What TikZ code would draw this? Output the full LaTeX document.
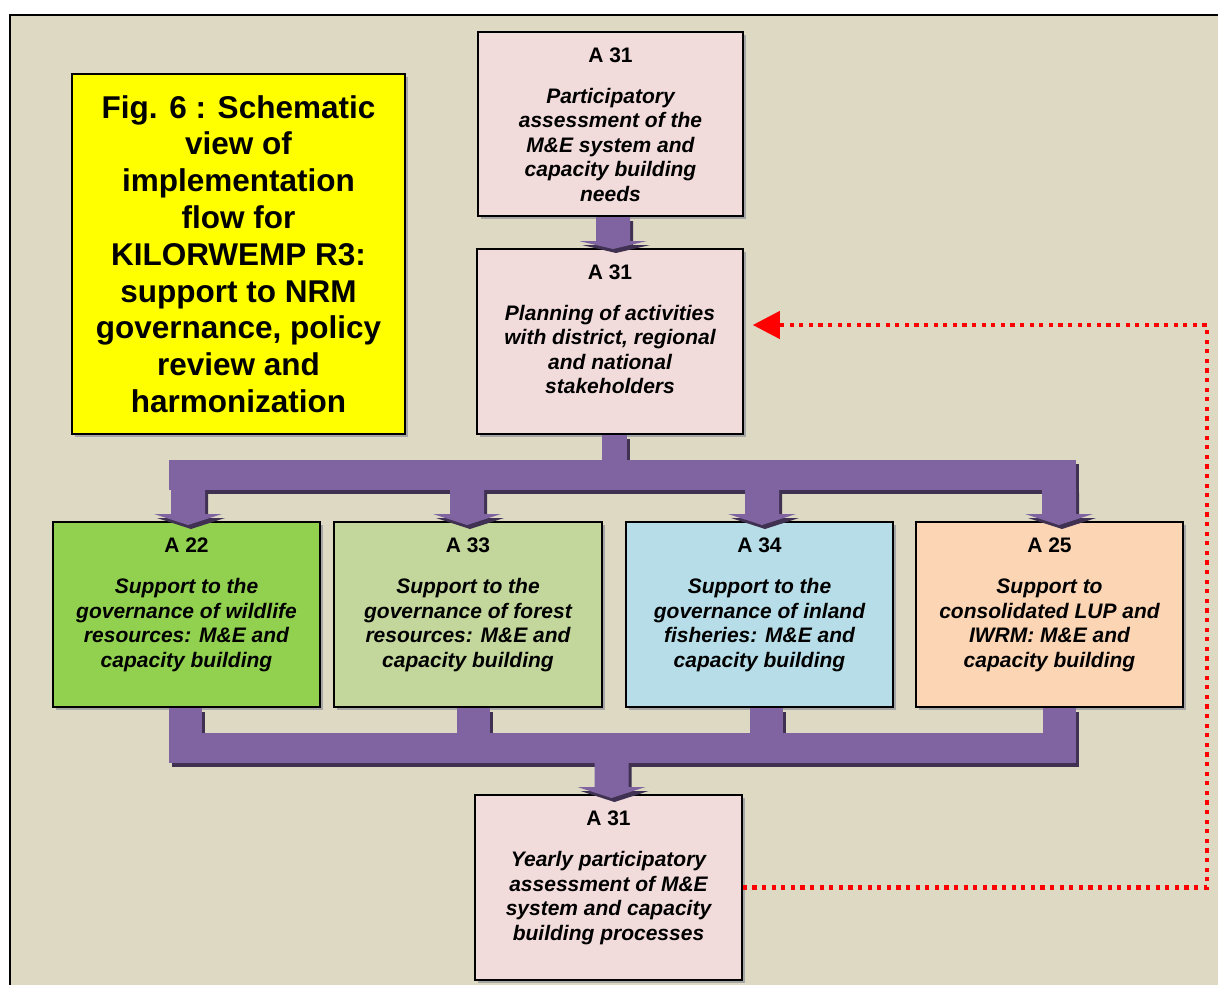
\documentclass[tikz,border=0pt]{standalone}
\usepackage{fontspec}
\setmainfont{Liberation Sans}
\usetikzlibrary{arrows.meta,calc,shadows}
\definecolor{bg}{HTML}{DDD9C3}
\definecolor{pinkbox}{HTML}{F2DCDB}
\definecolor{greenbox}{HTML}{92D050}
\definecolor{olivebox}{HTML}{C3D69B}
\definecolor{bluebox}{HTML}{B7DEE8}
\definecolor{peachbox}{HTML}{FCD5B5}
\definecolor{purp}{HTML}{8064A2}
\definecolor{purpdark}{HTML}{403152}
\definecolor{fbred}{HTML}{FF0000}
\definecolor{titleyellow}{HTML}{FFFF00}
\tikzset{
  boxbase/.style={draw=black, line width=1.5pt, inner sep=0pt,
    drop shadow={shadow xshift=2.5pt, shadow yshift=-2.5pt, fill=black!35, opacity=1}},
  actbox/.style={boxbase, minimum width=266pt, minimum height=185pt},
  acttext/.style={anchor=north, inner sep=0pt, align=center,
    font=\fontsize{21}{24.5}\selectfont\bfseries\itshape},
  titlebox/.style={boxbase, fill=titleyellow, minimum width=333pt, minimum height=360pt,
    align=center, font=\fontsize{31.5}{36.8}\selectfont\bfseries},
  feedback/.style={draw=fbred, line width=4.2pt, dash pattern=on 4.2pt off 5.4pt,
    -{Triangle[length=27pt,width=27pt]}}
}
\newcommand\dnarrow[4]{% x, ytop, ybase, ytip
  \fill[pf] ({#1-17},#2) -- ({#1+17},#2) -- ({#1+17},#3) -- ({#1+34},#3) --
    (#1,#4) -- ({#1-34},#3) -- ({#1-17},#3) -- cycle;}
\newcommand\allpurple{%
  \dnarrow{613}{217}{241}{249}
  \fill[pf] (602,435) rectangle (627,461);
  \fill[pf] (169,460) rectangle (1076,490);
  \dnarrow{188}{489}{514}{525}
  \dnarrow{467}{489}{514}{525}
  \dnarrow{762}{489}{514}{525}
  \dnarrow{1059}{489}{514}{525}
  \fill[pf] (169,708) rectangle (202,734);
  \fill[pf] (457,708) rectangle (490,734);
  \fill[pf] (750,708) rectangle (783,734);
  \fill[pf] (1043,708) rectangle (1076,734);
  \fill[pf] (169,733) rectangle (1076,763);
  \dnarrow{611.5}{762}{787}{798}
}
\begin{document}
\begin{tikzpicture}[x=1pt,y=-1pt]
\useasboundingbox (0,0) rectangle (1218,985);
\clip (0,0) rectangle (1218,985);
\fill[white] (0,0) rectangle (1218,985);
\draw[line width=1.5pt, draw=black, fill=bg] (10,15) rectangle (1240,1005);

% title
\node[titlebox] (title) at (238.5,254) {Fig. 6 : Schematic\\view of\\implementation\\flow for\\KILORWEMP R3:\\support to NRM\\governance, policy\\review and\\harmonization};

% activity boxes
\node[actbox, fill=pinkbox, minimum width=265pt, minimum height=184pt] (t1) at (610.5,124) {};
\node[acttext] (t1x) at ($(t1.north)+(0,16)$) {\upshape A 31\\[16.5pt]Participatory\\assessment of the\\M\&E system and\\capacity building\\needs};

\node[actbox, fill=pinkbox] (t2) at (610,341.5) {};
\node[acttext] (t2x) at ($(t2.north)+(0,16)$) {\upshape A 31\\[16.5pt]Planning of activities\\with district, regional\\and national\\stakeholders};

\node[actbox, fill=greenbox, minimum width=267pt] (a22) at (186.5,614.5) {};
\node[acttext] (a22x) at ($(a22.north)+(0,16.5)$) {\upshape A 22\\[16.5pt]Support to the\\governance of wildlife\\resources: M\&E and\\capacity building};

\node[actbox, fill=olivebox, minimum width=268pt] (a33) at (468,614.5) {};
\node[acttext] (a33x) at ($(a33.north)+(0,16.5)$) {\upshape A 33\\[16.5pt]Support to the\\governance of forest\\resources: M\&E and\\capacity building};

\node[actbox, fill=bluebox, minimum width=267pt] (a34) at (759.5,614.5) {};
\node[acttext] (a34x) at ($(a34.north)+(0,16.5)$) {\upshape A 34\\[16.5pt]Support to the\\governance of inland\\fisheries: M\&E and\\capacity building};

\node[actbox, fill=peachbox, minimum width=267pt] (a25) at (1049.5,614.5) {};
\node[acttext] (a25x) at ($(a25.north)+(0,16.5)$) {\upshape A 25\\[16.5pt]Support to\\consolidated LUP and\\IWRM: M\&E and\\capacity building};

\node[actbox, fill=pinkbox, minimum width=267pt] (b) at (608.5,887.5) {};
\node[acttext] (bx) at ($(b.north)+(0,16.5)$) {\upshape A 31\\[16.5pt]Yearly participatory\\assessment of M\&E\\system and capacity\\building processes};

% purple block arrows (shadow then fill)
\begin{scope}[shift={(3,4)}, pf/.style={fill=purpdark}]
  \allpurple
\end{scope}
\begin{scope}[pf/.style={fill=purp}]
  \allpurple
\end{scope}

% feedback loop
\coordinate (fbtip) at ($(t2.east)+(9,-16.5)$);
\coordinate (fbx) at (1207,0);
\draw[feedback] (b.east) -| (fbx |- fbtip) -- (fbtip);
\end{tikzpicture}
\end{document}
